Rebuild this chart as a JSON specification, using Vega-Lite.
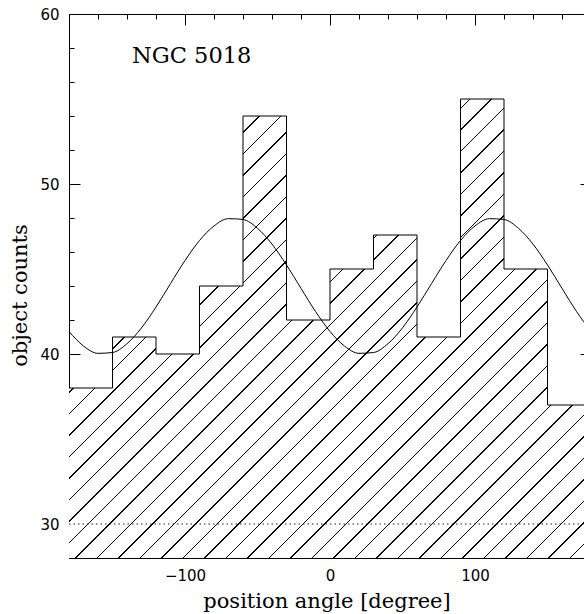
{
  "$schema": "https://vega.github.io/schema/vega-lite/v6.json",
  "width": 515,
  "height": 544,
  "autosize": {"type": "none"},
  "padding": {"left": 69, "top": 14, "right": 0, "bottom": 56},
  "background": "white",
  "config": {
    "view": {"stroke": null},
    "axis": {
      "grid": false, "zindex": 1,
      "domainColor": "black", "tickColor": "black", "labelColor": "black", "titleColor": "black",
      "domainWidth": 1, "tickWidth": 1,
      "labelFont": "DejaVu Sans", "labelFontSize": 15,
      "titleFont": "DejaVu Serif", "titleFontSize": 21, "titleFontWeight": "normal",
      "minExtent": 0, "labelFlush": false, "labelOverlap": false
    }
  },
  "datasets": {
    "hist": [
      {"angle": -180, "count": 38}, {"angle": -150, "count": 41}, {"angle": -120, "count": 40},
      {"angle": -90, "count": 44}, {"angle": -60, "count": 54}, {"angle": -30, "count": 42},
      {"angle": 0, "count": 45}, {"angle": 30, "count": 47}, {"angle": 60, "count": 41},
      {"angle": 90, "count": 55}, {"angle": 120, "count": 45}, {"angle": 150, "count": 37},
      {"angle": 180, "count": 37}
    ],
    "curve": [
      {"angle": -180, "fit": 41.324}, {"angle": -170, "fit": 40.468}, {"angle": -160, "fit": 40.039},
      {"angle": -150, "fit": 40.088}, {"angle": -140, "fit": 40.608}, {"angle": -130, "fit": 41.537},
      {"angle": -120, "fit": 42.764}, {"angle": -110, "fit": 44.140}, {"angle": -100, "fit": 45.498},
      {"angle": -90, "fit": 46.676}, {"angle": -80, "fit": 47.532}, {"angle": -70, "fit": 47.961},
      {"angle": -60, "fit": 47.912}, {"angle": -50, "fit": 47.392}, {"angle": -40, "fit": 46.463},
      {"angle": -30, "fit": 45.236}, {"angle": -20, "fit": 43.860}, {"angle": -10, "fit": 42.502},
      {"angle": 0, "fit": 41.324}, {"angle": 10, "fit": 40.468}, {"angle": 20, "fit": 40.039},
      {"angle": 30, "fit": 40.088}, {"angle": 40, "fit": 40.608}, {"angle": 50, "fit": 41.537},
      {"angle": 60, "fit": 42.764}, {"angle": 70, "fit": 44.140}, {"angle": 80, "fit": 45.498},
      {"angle": 90, "fit": 46.676}, {"angle": 100, "fit": 47.532}, {"angle": 110, "fit": 47.961},
      {"angle": 120, "fit": 47.912}, {"angle": 130, "fit": 47.392}, {"angle": 140, "fit": 46.463},
      {"angle": 150, "fit": 45.236}, {"angle": 160, "fit": 43.860}, {"angle": 170, "fit": 42.502},
      {"angle": 180, "fit": 41.324}
    ]
  },
  "resolve": {"axis": {"x": "independent", "y": "independent"}},
  "layer": [
    {
      "data": {"name": "hist"},
      "mark": {
        "type": "area", "interpolate": "step-after", "clip": true, "opacity": 1, "stroke": null,
        "fill": {
          "gradient": "linear", "x1": 0, "y1": 0, "x2": 1.05984, "y2": 0.93193,
          "stops": [
            {"offset": 0, "color": "white"},
            {"offset": 0.0135, "color": "white"}, {"offset": 0.0135, "color": "black"}, {"offset": 0.0151, "color": "black"}, {"offset": 0.0151, "color": "white"},
            {"offset": 0.0354, "color": "white"}, {"offset": 0.0354, "color": "black"}, {"offset": 0.0370, "color": "black"}, {"offset": 0.0370, "color": "white"},
            {"offset": 0.0573, "color": "white"}, {"offset": 0.0573, "color": "black"}, {"offset": 0.0589, "color": "black"}, {"offset": 0.0589, "color": "white"},
            {"offset": 0.0792, "color": "white"}, {"offset": 0.0792, "color": "black"}, {"offset": 0.0808, "color": "black"}, {"offset": 0.0808, "color": "white"},
            {"offset": 0.1011, "color": "white"}, {"offset": 0.1011, "color": "black"}, {"offset": 0.1027, "color": "black"}, {"offset": 0.1027, "color": "white"},
            {"offset": 0.1231, "color": "white"}, {"offset": 0.1231, "color": "black"}, {"offset": 0.1247, "color": "black"}, {"offset": 0.1247, "color": "white"},
            {"offset": 0.1450, "color": "white"}, {"offset": 0.1450, "color": "black"}, {"offset": 0.1466, "color": "black"}, {"offset": 0.1466, "color": "white"},
            {"offset": 0.1669, "color": "white"}, {"offset": 0.1669, "color": "black"}, {"offset": 0.1685, "color": "black"}, {"offset": 0.1685, "color": "white"},
            {"offset": 0.1888, "color": "white"}, {"offset": 0.1888, "color": "black"}, {"offset": 0.1904, "color": "black"}, {"offset": 0.1904, "color": "white"},
            {"offset": 0.2107, "color": "white"}, {"offset": 0.2107, "color": "black"}, {"offset": 0.2123, "color": "black"}, {"offset": 0.2123, "color": "white"},
            {"offset": 0.2326, "color": "white"}, {"offset": 0.2326, "color": "black"}, {"offset": 0.2342, "color": "black"}, {"offset": 0.2342, "color": "white"},
            {"offset": 0.2546, "color": "white"}, {"offset": 0.2546, "color": "black"}, {"offset": 0.2562, "color": "black"}, {"offset": 0.2562, "color": "white"},
            {"offset": 0.2765, "color": "white"}, {"offset": 0.2765, "color": "black"}, {"offset": 0.2781, "color": "black"}, {"offset": 0.2781, "color": "white"},
            {"offset": 0.2984, "color": "white"}, {"offset": 0.2984, "color": "black"}, {"offset": 0.3000, "color": "black"}, {"offset": 0.3000, "color": "white"},
            {"offset": 0.3203, "color": "white"}, {"offset": 0.3203, "color": "black"}, {"offset": 0.3219, "color": "black"}, {"offset": 0.3219, "color": "white"},
            {"offset": 0.3422, "color": "white"}, {"offset": 0.3422, "color": "black"}, {"offset": 0.3438, "color": "black"}, {"offset": 0.3438, "color": "white"},
            {"offset": 0.3641, "color": "white"}, {"offset": 0.3641, "color": "black"}, {"offset": 0.3657, "color": "black"}, {"offset": 0.3657, "color": "white"},
            {"offset": 0.3861, "color": "white"}, {"offset": 0.3861, "color": "black"}, {"offset": 0.3877, "color": "black"}, {"offset": 0.3877, "color": "white"},
            {"offset": 0.4080, "color": "white"}, {"offset": 0.4080, "color": "black"}, {"offset": 0.4096, "color": "black"}, {"offset": 0.4096, "color": "white"},
            {"offset": 0.4299, "color": "white"}, {"offset": 0.4299, "color": "black"}, {"offset": 0.4315, "color": "black"}, {"offset": 0.4315, "color": "white"},
            {"offset": 0.4518, "color": "white"}, {"offset": 0.4518, "color": "black"}, {"offset": 0.4534, "color": "black"}, {"offset": 0.4534, "color": "white"},
            {"offset": 0.4737, "color": "white"}, {"offset": 0.4737, "color": "black"}, {"offset": 0.4753, "color": "black"}, {"offset": 0.4753, "color": "white"},
            {"offset": 0.4956, "color": "white"}, {"offset": 0.4956, "color": "black"}, {"offset": 0.4972, "color": "black"}, {"offset": 0.4972, "color": "white"},
            {"offset": 0.5176, "color": "white"}, {"offset": 0.5176, "color": "black"}, {"offset": 0.5192, "color": "black"}, {"offset": 0.5192, "color": "white"},
            {"offset": 0.5395, "color": "white"}, {"offset": 0.5395, "color": "black"}, {"offset": 0.5411, "color": "black"}, {"offset": 0.5411, "color": "white"},
            {"offset": 0.5614, "color": "white"}, {"offset": 0.5614, "color": "black"}, {"offset": 0.5630, "color": "black"}, {"offset": 0.5630, "color": "white"},
            {"offset": 0.5833, "color": "white"}, {"offset": 0.5833, "color": "black"}, {"offset": 0.5849, "color": "black"}, {"offset": 0.5849, "color": "white"},
            {"offset": 0.6052, "color": "white"}, {"offset": 0.6052, "color": "black"}, {"offset": 0.6068, "color": "black"}, {"offset": 0.6068, "color": "white"},
            {"offset": 0.6271, "color": "white"}, {"offset": 0.6271, "color": "black"}, {"offset": 0.6287, "color": "black"}, {"offset": 0.6287, "color": "white"},
            {"offset": 0.6490, "color": "white"}, {"offset": 0.6490, "color": "black"}, {"offset": 0.6506, "color": "black"}, {"offset": 0.6506, "color": "white"},
            {"offset": 0.6710, "color": "white"}, {"offset": 0.6710, "color": "black"}, {"offset": 0.6726, "color": "black"}, {"offset": 0.6726, "color": "white"},
            {"offset": 0.6929, "color": "white"}, {"offset": 0.6929, "color": "black"}, {"offset": 0.6945, "color": "black"}, {"offset": 0.6945, "color": "white"},
            {"offset": 0.7148, "color": "white"}, {"offset": 0.7148, "color": "black"}, {"offset": 0.7164, "color": "black"}, {"offset": 0.7164, "color": "white"},
            {"offset": 0.7367, "color": "white"}, {"offset": 0.7367, "color": "black"}, {"offset": 0.7383, "color": "black"}, {"offset": 0.7383, "color": "white"},
            {"offset": 0.7586, "color": "white"}, {"offset": 0.7586, "color": "black"}, {"offset": 0.7602, "color": "black"}, {"offset": 0.7602, "color": "white"},
            {"offset": 0.7805, "color": "white"}, {"offset": 0.7805, "color": "black"}, {"offset": 0.7821, "color": "black"}, {"offset": 0.7821, "color": "white"},
            {"offset": 0.8025, "color": "white"}, {"offset": 0.8025, "color": "black"}, {"offset": 0.8041, "color": "black"}, {"offset": 0.8041, "color": "white"},
            {"offset": 0.8244, "color": "white"}, {"offset": 0.8244, "color": "black"}, {"offset": 0.8260, "color": "black"}, {"offset": 0.8260, "color": "white"},
            {"offset": 0.8463, "color": "white"}, {"offset": 0.8463, "color": "black"}, {"offset": 0.8479, "color": "black"}, {"offset": 0.8479, "color": "white"},
            {"offset": 0.8682, "color": "white"}, {"offset": 0.8682, "color": "black"}, {"offset": 0.8698, "color": "black"}, {"offset": 0.8698, "color": "white"},
            {"offset": 0.8901, "color": "white"}, {"offset": 0.8901, "color": "black"}, {"offset": 0.8917, "color": "black"}, {"offset": 0.8917, "color": "white"},
            {"offset": 0.9120, "color": "white"}, {"offset": 0.9120, "color": "black"}, {"offset": 0.9136, "color": "black"}, {"offset": 0.9136, "color": "white"},
            {"offset": 0.9340, "color": "white"}, {"offset": 0.9340, "color": "black"}, {"offset": 0.9356, "color": "black"}, {"offset": 0.9356, "color": "white"},
            {"offset": 0.9559, "color": "white"}, {"offset": 0.9559, "color": "black"}, {"offset": 0.9575, "color": "black"}, {"offset": 0.9575, "color": "white"},
            {"offset": 0.9778, "color": "white"}, {"offset": 0.9778, "color": "black"}, {"offset": 0.9794, "color": "black"}, {"offset": 0.9794, "color": "white"},
            {"offset": 1, "color": "white"}
          ]
        }
      },
      "encoding": {
        "x": {"field": "angle", "type": "quantitative",
              "scale": {"domain": [-180, 175.17], "nice": false, "zero": false},
              "axis": {"orient": "bottom", "values": [-100, 0, 100], "format": "d", "ticks": false, "labelPadding": 10, "domain": true, "title": "position angle [degree]", "titlePadding": 7}},
        "y": {"field": "count", "type": "quantitative",
              "scale": {"domain": [28, 60], "nice": false, "zero": false},
              "axis": {"orient": "left", "values": [30, 40, 50, 60], "format": "d", "ticks": false, "labelPadding": 10, "domain": true, "title": "object counts", "titlePadding": 9, "titleY": 281}},
        "y2": {"datum": 28}
      }
    },
    {
      "data": {"name": "hist"},
      "mark": {"type": "line", "interpolate": "step-after", "color": "black", "strokeWidth": 1, "clip": true},
      "encoding": {
        "x": {"field": "angle", "type": "quantitative",
              "scale": {"domain": [-180, 175.17], "nice": false, "zero": false},
              "axis": {"orient": "bottom", "values": [-100, 0, 100], "tickSize": -11, "labels": false, "domain": false, "title": null}},
        "y": {"field": "count", "type": "quantitative",
              "scale": {"domain": [28, 60], "nice": false, "zero": false},
              "axis": {"orient": "left", "values": [30, 40, 50, 60], "tickSize": -11, "labels": false, "domain": false, "title": null}}
      }
    },
    {
      "data": {"values": [{"level": 30}]},
      "mark": {"type": "rule", "color": "#222222", "strokeWidth": 1, "strokeDash": [1.5, 3], "clip": true},
      "encoding": {
        "x": {"datum": -180,
              "scale": {"domain": [-180, 175.17], "nice": false, "zero": false},
              "axis": {"orient": "bottom", "values": [-180, -160, -140, -120, -100, -80, -60, -40, -20, 0, 20, 40, 60, 80, 100, 120, 140, 160], "tickSize": -5, "labels": false, "domain": false, "title": null}},
        "x2": {"datum": 180},
        "y": {"field": "level", "type": "quantitative",
              "scale": {"domain": [28, 60], "nice": false, "zero": false},
              "axis": {"orient": "left", "values": [28, 30, 32, 34, 36, 38, 40, 42, 44, 46, 48, 50, 52, 54, 56, 58, 60], "tickSize": -5, "labels": false, "domain": false, "title": null}}
      }
    },
    {
      "data": {"name": "curve"},
      "mark": {"type": "line", "interpolate": "monotone", "color": "black", "strokeWidth": 1, "clip": true},
      "encoding": {
        "x": {"field": "angle", "type": "quantitative",
              "scale": {"domain": [-180, 175.17], "nice": false, "zero": false},
              "axis": {"orient": "top", "values": [-100, 0, 100], "tickSize": -11, "labels": false, "domain": true, "title": null}},
        "y": {"field": "fit", "type": "quantitative",
              "scale": {"domain": [28, 60], "nice": false, "zero": false},
              "axis": {"orient": "right", "offset": 7, "values": [30, 40, 50, 60], "tickSize": -11, "labels": false, "domain": false, "title": null}}
      }
    },
    {
      "data": {"values": [{"label": "NGC 5018"}]},
      "mark": {"type": "text", "align": "left", "baseline": "alphabetic", "font": "DejaVu Serif", "fontSize": 22.5, "color": "black"},
      "encoding": {
        "text": {"field": "label"},
        "x": {"datum": -136.5,
              "scale": {"domain": [-180, 175.17], "nice": false, "zero": false},
              "axis": {"orient": "top", "values": [-180, -160, -140, -120, -100, -80, -60, -40, -20, 0, 20, 40, 60, 80, 100, 120, 140, 160], "tickSize": -5, "labels": false, "domain": false, "title": null}},
        "y": {"datum": 57.1,
              "scale": {"domain": [28, 60], "nice": false, "zero": false},
              "axis": {"orient": "right", "offset": 7, "values": [28, 30, 32, 34, 36, 38, 40, 42, 44, 46, 48, 50, 52, 54, 56, 58, 60], "tickSize": -5, "labels": false, "domain": false, "title": null}}
      }
    }
  ]
}
